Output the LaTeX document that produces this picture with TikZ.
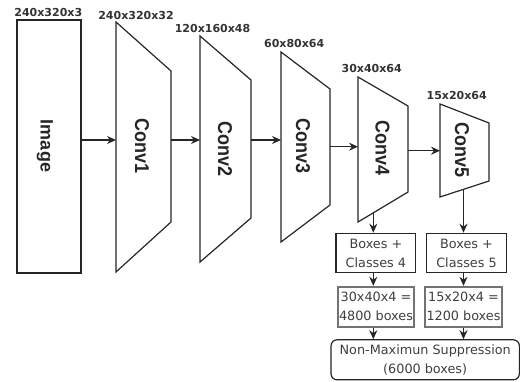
\documentclass[tikz,border=0pt]{standalone}
\usepackage{fontspec}
\setmainfont{DejaVu Sans}
\newfontfamily\headfont{Liberation Sans}
\usetikzlibrary{arrows.meta}
\newcommand{\convname}[1]{\scalebox{0.9}[1]{#1}}

\begin{document}
\begin{tikzpicture}[x=1pt,y=-1pt,
  layer/.style={draw=black!85, line width=1.2pt, line join=miter},
  dimlabel/.style={font=\fontsize{11}{13}\selectfont\bfseries, text=black!80, inner sep=0pt},
  bigtext/.style={font=\headfont\fontsize{18}{20}\selectfont\bfseries, rotate=-90, inner sep=0pt, text=black!85},
  convtext/.style={bigtext, font=\headfont\fontsize{20}{22}\selectfont\bfseries},
  arr/.style={draw=black!85, line width=1.2pt, -{Stealth[length=9pt,width=8pt]}},
  outbox/.style={draw=black!85, line width=1.2pt, align=center, inner sep=0pt,
    font=\fontsize{12.8}{19}\selectfont, text=black!75},
  countbox/.style={outbox, draw=black!55, line width=1.8pt},
  nmsbox/.style={outbox, rounded corners=6pt}
]
\useasboundingbox (0,0) rectangle (520,381);

% input image
\node[layer, minimum width=64pt, minimum height=253pt, inner sep=0pt] (img) at (49,146.5) {};
\node[bigtext] (imgtxt) at (45,146) {Image};

% convolution stages as tapering blocks
\draw[layer] (116,22) -- (171,71) -- (171,222) -- (116,272) -- cycle;
\draw[layer] (200,36) -- (251,80) -- (251,218) -- (200,262) -- cycle;
\draw[layer] (281,52) -- (330,89) -- (330,205) -- (281,242) -- cycle;
\draw[layer] (358,77) -- (408,106) -- (408,192) -- (358,222) -- cycle;
\draw[layer] (440,104) -- (489,123) -- (489,181) -- (440,197) -- cycle;

\node[convtext] (c1) at (142,146) {\convname{Conv1}};
\node[convtext] (c2) at (225,149) {\convname{Conv2}};
\node[convtext] (c3) at (303,146) {\convname{Conv3}};
\node[convtext] (c4) at (382.5,148) {\convname{Conv4}};
\node[convtext] (c5) at (462,150) {\convname{Conv5}};

% tensor sizes
\node[dimlabel] (d0) at (48.3,12.7) {240x320x3};
\node[dimlabel] (d1) at (136,15) {240x320x32};
\node[dimlabel] (d2) at (212.5,28.7) {120x160x48};
\node[dimlabel] (d3) at (294.2,43.7) {60x80x64};
\node[dimlabel] (d4) at (371.7,68) {30x40x64};
\node[dimlabel] (d5) at (456.7,95.3) {15x20x64};

% edge points of the blocks
\coordinate (c1w) at (116,140);
\coordinate (c1e) at (171,140);
\coordinate (c2w) at (200,140);
\coordinate (c2e) at (251,140);
\coordinate (c3w) at (281,140);
\coordinate (c3e) at (330,146.7);
\coordinate (c4w) at (358,146.7);
\coordinate (c4e) at (408,150.7);
\coordinate (c5w) at (440,150.7);
\coordinate (c4s) at (373.3,213);
\coordinate (c5s) at (463.5,189.5);

% detection heads
\node[outbox, minimum width=79.7pt, minimum height=39.4pt] (b4) at (375.9,253) {Boxes +\\Classes 4};
\node[outbox, minimum width=80.4pt, minimum height=39.4pt] (b5) at (466.5,253) {Boxes +\\Classes 5};
\node[countbox, minimum width=76.6pt, minimum height=40pt] (n4) at (376,306.7) {30x40x4 =\\4800 boxes};
\node[countbox, minimum width=76.4pt, minimum height=40pt] (n5) at (463.5,306.7) {15x20x4 =\\1200 boxes};
\node[nmsbox, minimum width=188.3pt, minimum height=40pt] (nms) at (425.2,359.8) {Non-Maximun Suppression\\(6000 boxes)};

% data flow
\draw[arr] (img.east |- c1w) -- (c1w);
\draw[arr] (c1e) -- (c2w);
\draw[arr] (c2e) -- (c3w);
\draw[arr] (c3e) -- (c4w);
\draw[arr] (c4e) -- (c5w);
\draw[arr] (c4s) -- (c4s |- b4.north);
\draw[arr] (c5s) -- (c5s |- b5.north);
\draw[arr] (c4s |- b4.south) -- (c4s |- n4.north);
\draw[arr] (c5s |- b5.south) -- (c5s |- n5.north);
\draw[arr] (c4s |- n4.south) -- (c4s |- nms.north);
\draw[arr] (c5s |- n5.south) -- (c5s |- nms.north);
\end{tikzpicture}
\end{document}
